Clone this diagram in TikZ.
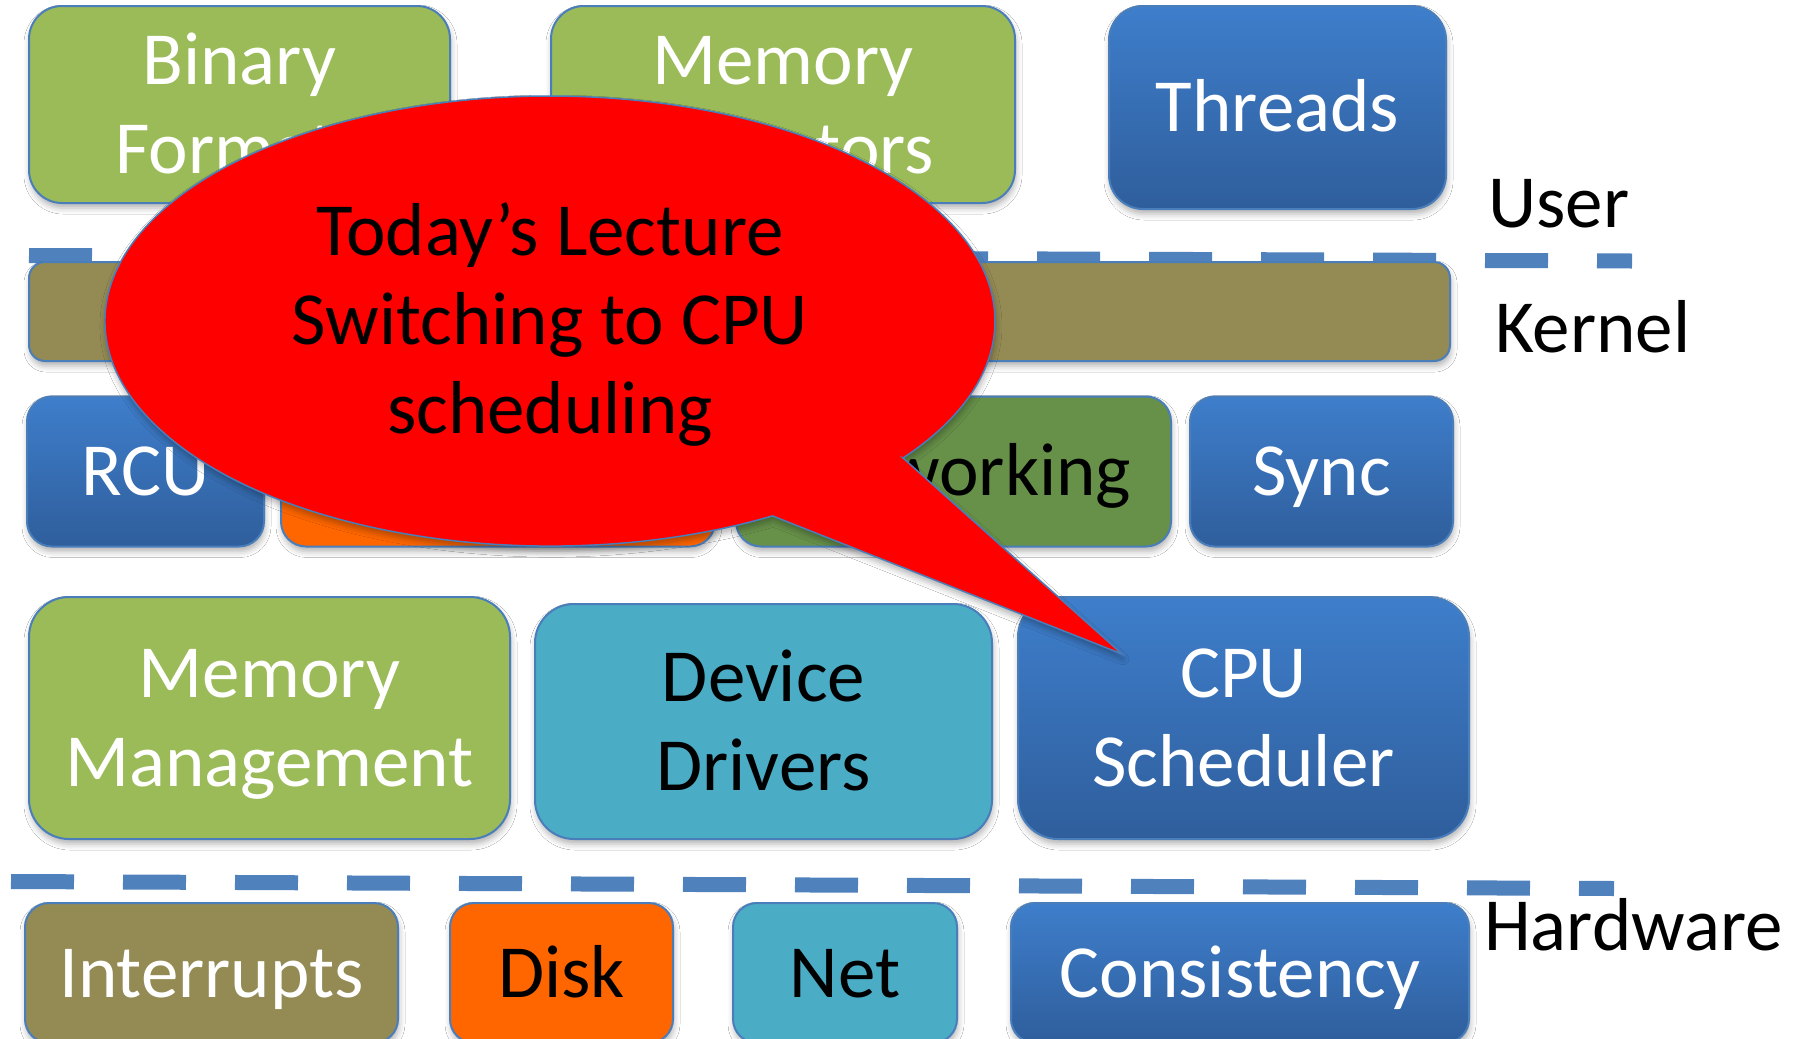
\documentclass[tikz,border=0pt]{standalone}
\usepackage{fontspec}
\setmainfont{Carlito}
\usetikzlibrary{shadows.blur}
\definecolor{bxgreen}{HTML}{9BBB59}
\definecolor{bxolive}{HTML}{948A54}
\definecolor{bxorange}{HTML}{FF6600}
\definecolor{bxdkgreen}{HTML}{679049}
\definecolor{bxcyan}{HTML}{4BACC6}
\definecolor{bxbluetop}{HTML}{3E7ECB}
\definecolor{bxbluebot}{HTML}{2F5E9C}
\definecolor{bxedge}{HTML}{4A7EBB}
\definecolor{sepblue}{HTML}{4F81BD}
\newcommand\lineT[1]{\raisebox{0pt}[48pt][0pt]{#1}}
\begin{document}
\begin{tikzpicture}[x=1pt,y=1pt,
  box/.style={rectangle, draw=bxedge, line width=2pt, inner sep=0pt, align=center,
    font=\fontsize{75}{89}\selectfont,
    blur shadow={shadow xshift=1pt, shadow yshift=-5pt, shadow blur radius=6pt, shadow opacity=30}},
  gbox/.style={box, fill=bxgreen, text=white},
  obox/.style={box, fill=bxolive, text=white},
  orbox/.style={box, fill=bxorange, text=black},
  dgbox/.style={box, fill=bxdkgreen, text=black},
  cbox/.style={box, fill=bxcyan, text=black},
  bbox/.style={box, top color=bxbluetop, bottom color=bxbluebot, text=white},
  sep/.style={draw=sepblue, line width=15pt, dash pattern=on 63pt off 49pt},
  layer/.style={inner sep=0pt, font=\fontsize{75}{89}\selectfont, text=black, anchor=base west},
  callout/.style={fill=red, draw=bxedge, line width=1.5pt,
    blur shadow={shadow xshift=1pt, shadow yshift=-5pt, shadow blur radius=6pt, shadow opacity=30}},
  callouttext/.style={inner sep=0pt, align=center, font=\fontsize{75}{89}\selectfont, text=black}
]
\useasboundingbox (0,0) rectangle (1797,-1039);
\fill[white] (0,0) rectangle (1797,-1039);
\clip (0,0) rectangle (1797,-1039);

% separators
\draw[sep] (29,-255.5) -- (1632,-261);
\draw[sep] (11,-881.5) -- (1614,-888.5);

% user row
\node[gbox, rounded corners=33pt, minimum width=421pt, minimum height=197pt] (binary) at (239.5,-104.5) {\lineT{Binary}\\\lineT{Formats}};
\node[gbox, rounded corners=33pt, minimum width=464pt, minimum height=197pt] (memalloc) at (783,-104.5) {\lineT{Memory}\\\lineT{Allocators}};
\node[bbox, rounded corners=34pt, minimum width=337pt, minimum height=203pt] (threads) at (1277.5,-107.5) {\lineT{Threads}};
\node[layer] (user) at (1488,-227) {User};

% kernel
\node[obox, rounded corners=16pt, minimum width=1421pt, minimum height=99pt] (kernel) at (739.5,-311.5) {};
\node[layer] (kernellabel) at (1495,-352) {Kernel};

\node[bbox, rounded corners=25pt, minimum width=237pt, minimum height=150pt] (rcu) at (145.5,-471.5) {\lineT{RCU}};
\node[orbox, rounded corners=25pt, minimum width=434pt, minimum height=150pt] (fs) at (498,-471.5) {};
\node[dgbox, rounded corners=25pt, minimum width=435pt, minimum height=150pt] (networking) at (953.5,-471.5) {\lineT{Networking}};
\node[bbox, rounded corners=25pt, minimum width=263pt, minimum height=150pt] (sync) at (1321.5,-471.5) {\lineT{Sync}};

\node[gbox, rounded corners=40pt, minimum width=481pt, minimum height=242pt] (memmgmt) at (269.5,-718) {\lineT{Memory}\\\lineT{Management}};
\node[cbox, rounded corners=39pt, minimum width=457pt, minimum height=235pt] (device) at (763.5,-721.5) {\lineT{Device}\\\lineT{Drivers}};
\node[bbox, rounded corners=40pt, minimum width=451pt, minimum height=242pt] (cpu) at (1243.5,-718) {\lineT{CPU}\\\lineT{Scheduler}};

% hardware
\node[obox, rounded corners=24pt, minimum width=373pt, minimum height=140pt] (interrupts) at (211.5,-973) {\lineT{Interrupts}};
\node[orbox, rounded corners=24pt, minimum width=223pt, minimum height=140pt] (disk) at (561.5,-973) {\lineT{Disk}};
\node[cbox, rounded corners=24pt, minimum width=224pt, minimum height=140pt] (net) at (845,-973) {\lineT{Net}};
\node[bbox, rounded corners=24pt, minimum width=458pt, minimum height=140pt] (consistency) at (1240,-973) {\lineT{Consistency}};
\node[layer] (hardware) at (1484,-950) {Hardware};

% callout
\coordinate (tip) at (1122,-654);
\draw[callout] (903,-458) -- (tip) -- (772.5,-515.9) arc[start angle=-60, end angle=-397.5, x radius=445, y radius=225] -- cycle;
\node[callouttext] (lecture) at (550,-320) {\lineT{Today’s Lecture}\\\lineT{Switching to CPU}\\\lineT{scheduling}};
\end{tikzpicture}
\end{document}
